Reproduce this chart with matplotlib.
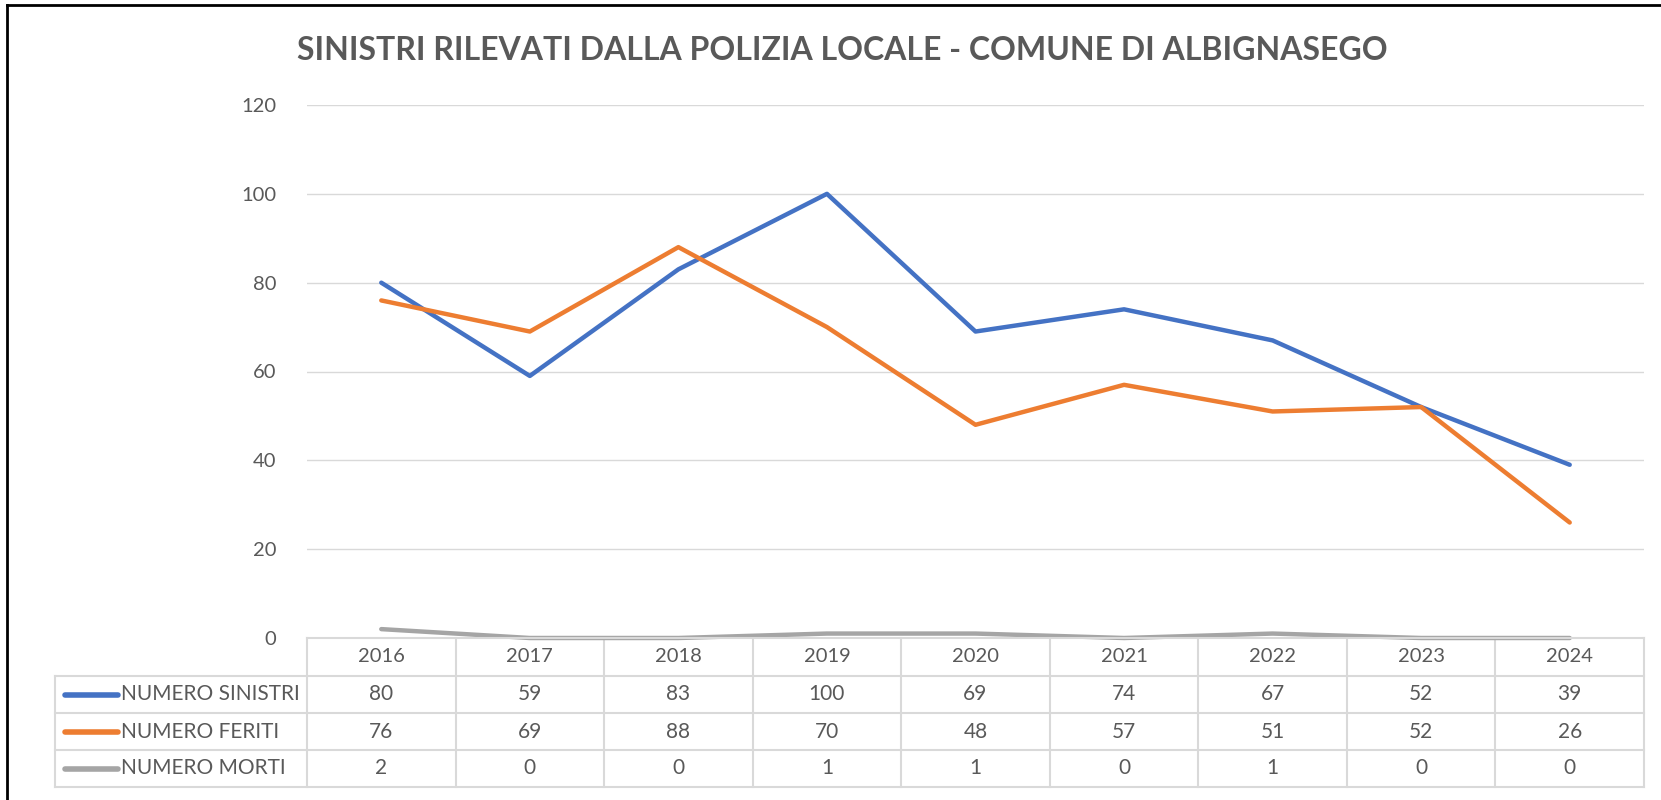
import matplotlib.pyplot as plt
from matplotlib.lines import Line2D
from matplotlib.transforms import blended_transform_factory

anni = ["2016", "2017", "2018", "2019", "2020", "2021", "2022", "2023", "2024"]
sinistri = [80, 59, 83, 100, 69, 74, 67, 52, 39]
feriti = [76, 69, 88, 70, 48, 57, 51, 52, 26]
morti = [2, 0, 0, 1, 1, 0, 1, 0, 0]

nomi_serie = ["NUMERO SINISTRI", "NUMERO FERITI", "NUMERO MORTI"]
colori = ["#4472C4", "#ED7D31", "#A5A5A5"]
testo = "#595959"
griglia = "#D9D9D9"

plt.rcParams["font.family"] = ["Lato", "DejaVu Sans"]

W, H = 1661, 800
fig = plt.figure(figsize=(W / 100, H / 100), dpi=100)

# area del grafico in pixel
x0, x1 = 307, 1644
y_top, y_zero = 105, 638
ax = fig.add_axes([x0 / W, (H - y_zero) / H, (x1 - x0) / W, (y_zero - y_top) / H])

x = list(range(len(anni)))
for serie, col in zip([sinistri, feriti, morti], colori):
    ax.plot(x, serie, color=col, lw=3.2, solid_capstyle="round", zorder=3, clip_on=False)

ax.set_xlim(-0.5, len(anni) - 0.5)
ax.set_ylim(0, 120)
ax.set_yticks(range(0, 121, 20))
ax.set_xticks([])
ax.grid(axis="y", color=griglia, lw=1)
ax.set_axisbelow(True)
for s in ax.spines.values():
    s.set_visible(False)
ax.tick_params(axis="y", length=0, pad=22, labelsize=14.5, labelcolor=testo)

# tabella dati sotto il grafico (x in dati, y in pixel figura)
trans = blended_transform_factory(ax.transData, fig.transFigure)
righe = [638, 676, 713, 750, 787]
def fy(p):
    return (H - p) / H

# linee orizzontali
fig.add_artist(Line2D([x0 / W, x1 / W], [fy(righe[0])] * 2, color=griglia, lw=1.5))
for r in righe[1:]:
    fig.add_artist(Line2D([55 / W, x1 / W], [fy(r)] * 2, color=griglia, lw=1.5))
# linee verticali
for i in range(len(anni) + 1):
    ax.add_artist(Line2D([i - 0.5, i - 0.5], [fy(righe[0]), fy(righe[-1])],
                         color=griglia, lw=1.5, transform=trans, clip_on=False))
fig.add_artist(Line2D([55 / W, 55 / W], [fy(righe[1]), fy(righe[-1])], color=griglia, lw=1.5))

for i, a in enumerate(anni):
    ax.text(i, fy((righe[0] + righe[1]) / 2), a, transform=trans, ha="center", va="center",
            fontsize=14.5, color=testo)

for k, (serie, nome, col) in enumerate(zip([sinistri, feriti, morti], nomi_serie, colori)):
    yc = fy((righe[k + 1] + righe[k + 2]) / 2)
    fig.add_artist(Line2D([65 / W, 118 / W], [yc, yc], color=col, lw=4, solid_capstyle="round"))
    fig.text(121 / W, yc, nome, ha="left", va="center", fontsize=15, color=testo)
    for i, v in enumerate(serie):
        ax.text(i, yc, str(v), transform=trans, ha="center", va="center",
                fontsize=15, color=testo)

fig.text(842 / W, fy(50), "SINISTRI RILEVATI DALLA POLIZIA LOCALE - COMUNE DI ALBIGNASEGO",
         ha="center", va="center", fontsize=23, fontweight="bold", color=testo)

# cornice
fig.add_artist(Line2D([7 / W, 7 / W], [0, fy(5)], color="black", lw=2))
fig.add_artist(Line2D([7 / W, 1], [fy(5), fy(5)], color="black", lw=2))

fig.savefig("out.png", dpi=100)
